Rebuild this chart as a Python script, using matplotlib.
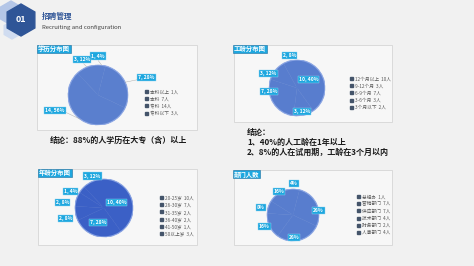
import matplotlib.pyplot as plt
from matplotlib.patches import Rectangle, RegularPolygon, Circle
import numpy as np

plt.rcParams['font.family'] = ['Noto Sans CJK SC', 'DejaVu Sans']

W, H = 474, 266

# ===== 数据 =====
edu_names = ["本科以上", "本科", "专科", "专科以下"]
edu_counts = [1, 7, 14, 3]

work_names = ["12个月以上", "9-12个月", "6-9个月", "3-6个月", "3个月以下"]
work_counts = [10, 3, 7, 3, 2]

age_names = ["20-25岁", "26-30岁", "31-35岁", "36-40岁", "41-50岁", "50以上岁"]
age_counts = [10, 7, 2, 2, 1, 3]

dept_names = ["总经办", "营销部门", "供应部门", "技术部门", "财务部门", "人事部门"]
dept_counts = [1, 7, 7, 4, 2, 4]

fig = plt.figure(figsize=(W / 100, H / 100), dpi=100)
fig.patch.set_facecolor("#f1f1f1")

# 背景层，像素坐标
bg = fig.add_axes([0, 0, 1, 1], zorder=-1)
bg.set_xlim(0, W)
bg.set_ylim(H, 0)
bg.axis("off")

# ===== 标题 =====
bg.add_patch(RegularPolygon((11, 13), 6, radius=12, color="#b4c6e7"))
bg.add_patch(RegularPolygon((12, 30), 6, radius=9, color="#d0dcf0"))
bg.add_patch(RegularPolygon((21, 20), 6, radius=16, color="#2f5597"))
bg.text(21, 20, "01", color="white", fontsize=6.5, fontweight="bold",
        ha="center", va="center")
bg.text(42, 17, "招聘管理", color="#2f5597", fontsize=5.5, fontweight="bold", va="center")
bg.text(42, 27, "Recruiting and configuration", color="#404040", fontsize=4.3, va="center")


def panel(x0, y0, x1, y1, title, tx0):
    bg.add_patch(Rectangle((x0, y0), x1 - x0, y1 - y0, facecolor="#f7f7f7",
                           edgecolor="#d6d6d6", lw=0.6))
    bg.text(tx0 + 1, y0 + 4, title, color="white", fontsize=4.6,
            fontweight="bold", va="center", zorder=4,
            bbox=dict(boxstyle="square,pad=0.15", fc="#1ea7df", ec="#1b6fa0", lw=0.4))


def pie(cx, cy, r, counts, names, color, dists, shifts, pct_only, leg_x, leg_y, leaders=False):
    ax = fig.add_axes([(cx - r) / W, 1 - (cy + r) / H, 2 * r / W, 2 * r / H])
    wedges, _ = ax.pie(counts, startangle=90, counterclock=False, radius=1,
                       colors=[color] * len(counts),
                       wedgeprops=dict(edgecolor=color, linewidth=0.3))
    ax.add_patch(Circle((0, 0), 1, fill=False, ec="#8fa9e6", lw=0.9, alpha=0.8))
    ax.set_xlim(-1, 1)
    ax.set_ylim(-1, 1)
    ax.axis("off")
    total = sum(counts)
    for w, n, d, sh in zip(wedges, counts, dists, shifts):
        mid = np.deg2rad((w.theta1 + w.theta2) / 2)
        a = np.deg2rad((w.theta1 + w.theta2) / 2 + sh)
        pct = round(n * 100 / total)
        s = f"{pct}%" if pct_only else f"{n}, {pct}%"
        if leaders and d > 1.2:
            ax.plot([np.cos(mid), (d - 0.15) * np.cos(a)],
                    [np.sin(mid), (d - 0.15) * np.sin(a)],
                    color="#a6a6a6", lw=0.3, clip_on=False)
        ax.text(d * np.cos(a), d * np.sin(a), s, ha="center", va="center",
                color="white", fontsize=3.6, fontweight="bold", clip_on=False,
                bbox=dict(boxstyle="square,pad=0.2", fc="#1ea7df", ec="#8fd3f0", lw=0.3))
    labels = [f"{nm}  {n}人" for nm, n in zip(names, counts)]
    handles = [Rectangle((0, 0), 1, 1, color="#44546a") for _ in names]
    fig.legend(handles, labels, loc="upper left",
               bbox_to_anchor=(leg_x / W, 1 - leg_y / H), frameon=False,
               fontsize=3.4, handlelength=0.6, handleheight=0.6, handletextpad=0.4,
               labelspacing=0.45, borderpad=0, labelcolor="#595959")


panel(37, 45, 197, 130, "学历分布图", 37)
pie(98, 95, 30, edu_counts, edu_names, "#5a7fce",
    [1.3, 1.72, 1.53, 1.3], [7, -5, -34, 3], False, 143, 87, leaders=True)
bg.text(118, 140, "结论：88%的人学历在大专（含）以上", color="#1a1a1a",
        fontsize=5.8, fontweight="bold", ha="center", va="center")

panel(234, 45, 392, 122, "工龄分布图", 233)
pie(297, 88, 28, work_counts, work_names, "#587dce",
    [0.5, 0.85, 1.0, 1.15, 1.2], [18, -2, -25, 12, -2], False, 348, 74)
bg.text(247, 132, "结论：", color="#1a1a1a", fontsize=5.8, fontweight="bold", va="center")
bg.text(247, 142, "1、40%的人工龄在1年以上", color="#1a1a1a", fontsize=5.8,
        fontweight="bold", va="center")
bg.text(247, 152, "2、8%的人在试用期，工龄在3个月以内", color="#1a1a1a",
        fontsize=5.8, fontweight="bold", va="center")

panel(38, 169, 197, 245, "年龄分布图", 38)
pie(104, 208, 29, age_counts, age_names, "#3b60c6",
    [0.47, 0.53, 1.38, 1.45, 1.3, 1.17], [4, -9, 5, 11, 13, -2], False, 158, 193)

panel(234, 170, 392, 245, "部门人数", 233)
pie(293, 215, 26, dept_counts, dept_names, "#587dce",
    [1.22, 1.0, 0.85, 1.19, 1.27, 1.05], [5, -16, -12, -4, 4, 2], True, 355, 192)

fig.savefig("out.png", dpi=100, facecolor=fig.get_facecolor())
